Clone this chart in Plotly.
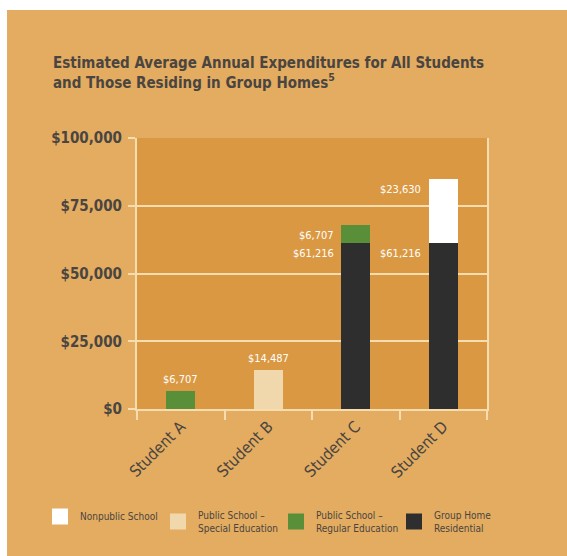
import plotly.graph_objects as go

categories = ["Student A", "Student B", "Student C", "Student D"]
group_home = [0, 0, 61216, 61216]
public_regular = [6707, 0, 6707, 0]
public_special = [0, 14487, 0, 0]
nonpublic = [0, 0, 0, 23630]
y_ticks = [0, 25000, 50000, 75000, 100000]
y_tick_labels = ["$0", "$25,000", "$50,000", "$75,000", "$100,000"]

OUTER = "#E3AC60"
PLOT = "#DA9842"
GRID = "#F6DDB0"
TXT = "#4A4540"
FONT = "DejaVu Sans Condensed, Roboto, sans-serif"

W, H = 567, 556
L, R, T, B = 137, 80, 138, 147
pw, ph = W - L - R, H - T - B

fig = go.Figure()
series = [
    ("Group Home<br>Residential", group_home, "#2F2E2E", 4),
    ("Public School –<br>Regular Education", public_regular, "#5A8F3A", 3),
    ("Public School –<br>Special Education", public_special, "#F0D8AC", 2),
    ("Nonpublic School", nonpublic, "#FFFFFF", 1),
]
for name, vals, col, rank in series:
    fig.add_trace(go.Bar(
        x=categories, y=vals, name=name, marker=dict(color=col, line=dict(width=0)),
        width=0.33, showlegend=False, hoverinfo="skip"))
    fig.add_trace(go.Scatter(
        x=[None], y=[None], mode="markers", name=name, legendrank=rank,
        marker=dict(symbol="square", size=18, color=col, line=dict(width=0))))

lab_font = dict(family=FONT, size=11, color="white")
for i, c in enumerate(categories):
    base = group_home[i]
    if base == 0:
        top = public_regular[i] + public_special[i] + nonpublic[i]
        fig.add_annotation(x=c, y=top, text=f"${top:,}", showarrow=False,
                           yanchor="bottom", yshift=3, font=lab_font)
    else:
        fig.add_annotation(x=c, y=base, text=f"${base:,}", showarrow=False,
                           xanchor="right", yanchor="top", xshift=-20, yshift=-2, font=lab_font)
        extra = public_regular[i] + nonpublic[i]
        fig.add_annotation(x=c, y=base + extra, text=f"${extra:,}", showarrow=False,
                           xanchor="right", yanchor="top", xshift=-20, yshift=-2, font=lab_font)

fig.add_shape(type="rect", xref="paper", yref="paper",
              x0=-L / pw, x1=(W - L) / pw, y0=1 + (T - 10) / ph, y1=1 + T / ph,
              fillcolor="white", line=dict(width=0), layer="below")
fig.add_shape(type="rect", xref="paper", yref="paper",
              x0=-L / pw, x1=-(L - 7) / pw, y0=-B / ph, y1=1 + T / ph,
              fillcolor="white", line=dict(width=0), layer="below")

fig.update_layout(
    width=W, height=H,
    margin=dict(l=L, r=R, t=T, b=B, autoexpand=False),
    paper_bgcolor=OUTER, plot_bgcolor=PLOT,
    barmode="stack",
    title=dict(text="<b>Estimated Average Annual Expenditures for All Students<br>and Those Residing in Group Homes<sup>5</sup></b>",
               x=53 / W, xanchor="left", y=1 - 68 / H, yanchor="top",
               font=dict(family=FONT, size=15, color=TXT)),
    font=dict(family=FONT, color=TXT),
    showlegend=True,
    legend=dict(orientation="h", xref="paper", yref="paper",
                x=(40 - L) / pw, xanchor="left", y=-(502 - (H - B)) / ph, yanchor="top",
                bgcolor="rgba(0,0,0,0)", font=dict(family=FONT, size=10, color=TXT),
                traceorder="normal", itemwidth=30, entrywidth=73, tracegroupgap=0),
    bargap=0.67,
)
fig.update_yaxes(range=[0, 100000], tickvals=y_ticks, ticktext=y_tick_labels,
                 showgrid=True, gridcolor=GRID, gridwidth=2,
                 ticks="outside", ticklen=7, tickcolor=GRID, tickwidth=2,
                 showline=True, linecolor=GRID, linewidth=2, mirror=True,
                 zeroline=False, ticklabelstandoff=3,
                 tickfont=dict(family=FONT, size=15, color=TXT, weight="bold"))
fig.update_xaxes(tickangle=-45, tickson="boundaries", ticks="outside", ticklen=9,
                 tickcolor=GRID, tickwidth=2, showline=True, linecolor=GRID, linewidth=2,
                 showgrid=False, tickfont=dict(family=FONT, size=16, color=TXT))

fig.write_html("out.html")
